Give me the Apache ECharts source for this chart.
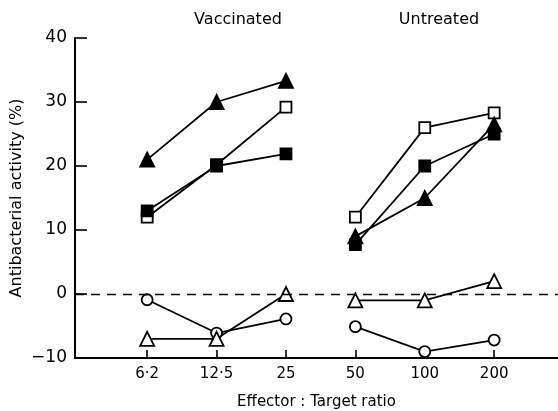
<!DOCTYPE html>
<html><head><meta charset="utf-8">
<script src="https://cdn.jsdelivr.net/npm/echarts@6/dist/echarts.min.js"></script>
<style>html,body{margin:0;padding:0;background:#fff}#c{width:558px;height:411px}</style>
</head><body><div id="c"></div>
<script>
const tickLabels = ['6·2', '12·5', '25', '50', '100', '200'];
const groupTitles = ['Vaccinated', 'Untreated'];
// values per ratio index (0..5); first three = vaccinated, last three = untreated
const filledTriangle = [21, 30, 33.3, 9, 15, 26.5];
const openSquare = [12, 20.2, 29.2, 12, 26, 28.3];
const filledSquare = [13, 20, 21.9, 7.7, 20, 25];
const openCircle = [-0.9, -6.1, -3.9, -5.1, -9, -7.2];
const openTriangle = [-7, -7, 0, -1, -1, 2];

const seriesDefs = [
  {name: 'openCircle', vals: openCircle, symbol: 'circle', filled: false, size: 11},
  {name: 'openTriangle', vals: openTriangle, symbol: 'triangle', filled: false, size: 14},
  {name: 'openSquare', vals: openSquare, symbol: 'rect', filled: false, size: 11},
  {name: 'filledSquare', vals: filledSquare, symbol: 'rect', filled: true, size: 11},
  {name: 'filledTriangle', vals: filledTriangle, symbol: 'triangle', filled: true, size: 14}
];
const series = [];
seriesDefs.forEach(d => {
  [[0, 1, 2], [3, 4, 5]].forEach(idx => {
    series.push({
      type: 'line', name: d.name,
      data: idx.map(i => [i, d.vals[i]]),
      symbol: d.symbol, symbolSize: d.size, showSymbol: true,
      lineStyle: {color: '#000', width: 1.8},
      itemStyle: {color: d.filled ? '#000' : '#fff', borderColor: '#000', borderWidth: 1.8},
      z: 3
    });
  });
});
series.push({
  type: 'line', data: [], silent: true,
  markLine: {symbol: ['none', 'none'], silent: true, label: {show: false},
    lineStyle: {color: '#000', type: [9, 7], width: 1.4},
    data: [{yAxis: 0}]}
});
const FONT = 'DejaVu Sans';
const chart = echarts.init(document.getElementById('c'));
chart.setOption({
  animation: false,
  backgroundColor: '#fff',
  title: [
    {text: groupTitles[0], left: 233, top: 7, textAlign: 'center', textStyle: {fontFamily: FONT, fontSize: 16, fontWeight: 'normal', color: '#000'}},
    {text: groupTitles[1], left: 434, top: 7, textAlign: 'center', textStyle: {fontFamily: FONT, fontSize: 16, fontWeight: 'normal', color: '#000'}}
  ],
  grid: {left: 75, right: 0, top: 38, bottom: 53, containLabel: false, outerBoundsMode: 'none'},
  xAxis: {
    type: 'value', min: -1.04, max: 5.92,
    splitLine: {show: false},
    axisLine: {onZero: false, lineStyle: {color: '#000', width: 2}},
    axisTick: {show: true, inside: true, length: 8, lineStyle: {color: '#000', width: 1.6}, customValues: [0, 1, 2, 3, 4, 5]},
    axisLabel: {customValues: [0, 1, 2, 3, 4, 5], formatter: v => tickLabels[Math.round(v)], color: '#000', fontFamily: FONT, fontSize: 15, margin: 9},
    name: 'Effector : Target ratio', nameLocation: 'middle', nameGap: 37, nameMoveOverlap: false,
    nameTextStyle: {fontFamily: FONT, fontSize: 15, color: '#000'}
  },
  yAxis: {
    type: 'value', min: -10, max: 40, interval: 10,
    splitLine: {show: false},
    axisLine: {show: true, onZero: false, lineStyle: {color: '#000', width: 2}},
    axisTick: {show: true, inside: true, length: 12, lineStyle: {color: '#000', width: 1.6}},
    axisLabel: {color: '#000', fontFamily: FONT, fontSize: 17, margin: 8, formatter: v => String(v).replace('-', '\u2212')},
    name: 'Antibacterial activity (%)', nameLocation: 'middle', nameGap: 50, nameMoveOverlap: false,
    nameTextStyle: {fontFamily: FONT, fontSize: 16, color: '#000'}
  },
  series: series
});
</script></body></html>
